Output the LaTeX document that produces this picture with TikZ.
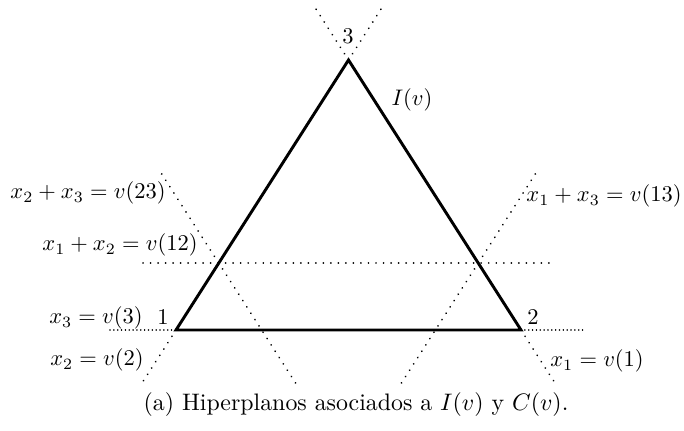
\documentclass[tikz,border=0pt]{standalone}
\usepackage{amsmath}
\begin{document}
\begin{tikzpicture}[x=0.4444pt,y=-0.4444pt,
  hyper/.style={line width=0.85pt,dash pattern=on 0.01pt off 3.33pt,line cap=round},
  hyperd/.style={line width=0.7pt,dash pattern=on 0.01pt off 1.7pt,line cap=round},
  side/.style={line width=1.3pt,line join=miter},
  lab/.style={inner sep=0pt,anchor=center}]
\useasboundingbox (0,0) rectangle (684,430);
% vertices
\coordinate (v1) at (176,330);
\coordinate (v2) at (521,330);
\coordinate (v3) at (348.5,60);
% free ends of hyperplanes
\coordinate (a1) at (110,330);
\coordinate (a2) at (585,330);
\coordinate (b1) at (142,383);
\coordinate (b2) at (316,9);
\coordinate (c1) at (555,383);
\coordinate (c2) at (381,9);
\coordinate (d1) at (143,263);
\coordinate (d2) at (549,263);
\coordinate (e1) at (161.7,174);
\coordinate (e2) at (295.6,383);
\coordinate (f1) at (535.3,174);
\coordinate (f2) at (401.4,383);
% dotted lines
\draw[hyperd] (a1) -- (v1);
\draw[hyperd] (v2) -- (a2);
\draw[hyper] (v1) -- (b1);
\draw[hyper] (v3) -- (c2);
\draw[hyper] (v2) -- (c1);
\draw[hyper] (v3) -- (b2);
\draw[hyper] (d1) -- (d2);
\draw[hyper] (e1) -- (e2);
\draw[hyper] (f1) -- (f2);
% triangle
\draw[side] (v1) -- (v2) -- (v3) -- cycle;
% labels
\node[lab] (n3) at (348,36) {$3$};
\node[lab] (n1) at (163,317) {$1$};
\node[lab] (n2) at (533,317) {$2$};
\node[lab] (iv) at (412,100) {$I(v)$};
\node[lab] (l23) at (88,193) {$x_2+x_3=v(23)$};
\node[lab] (l12) at (120,245) {$x_1+x_2=v(12)$};
\node[lab] (l13) at (604,196) {$x_1+x_3=v(13)$};
\node[lab] (l3) at (96,318) {$x_3=v(3)$};
\node[lab] (l2) at (97,360) {$x_2=v(2)$};
\node[lab] (l1) at (597,361) {$x_1=v(1)$};
\node[lab,scale=1.06] (cap) at (356,405) {(a) Hiperplanos asociados a $I(v)$ y $C(v)$.};
\end{tikzpicture}
\end{document}
